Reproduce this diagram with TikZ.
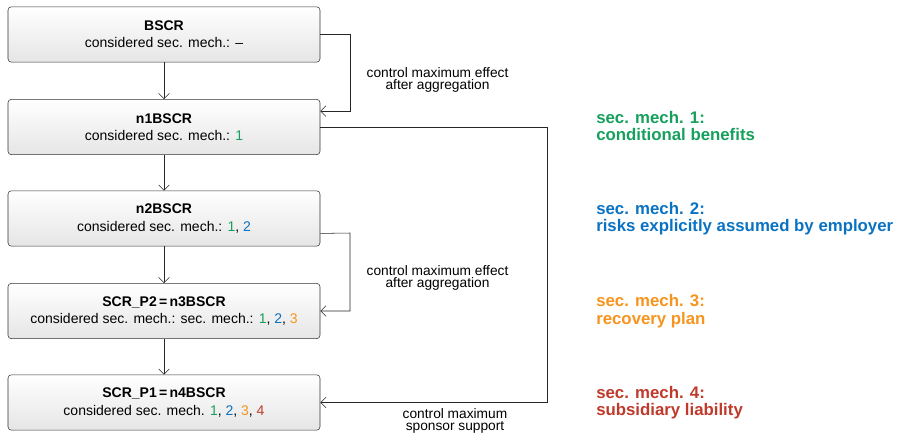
\documentclass[tikz,border=0pt]{standalone}
\usepackage{fontspec}
\setmainfont{Liberation Sans}
\usetikzlibrary{arrows.meta,calc}

\definecolor{mechone}{HTML}{17A05D}
\definecolor{mechtwo}{HTML}{0A72C2}
\definecolor{mechthree}{HTML}{F7941D}
\definecolor{mechfour}{HTML}{BF3A2B}

\begin{document}
\begin{tikzpicture}[x=0.75pt,y=-0.75pt,
  stage/.style={draw=black!80, rounded corners=2.5pt, top color=white,
    bottom color=black!10, minimum width=234pt, minimum height=41.5pt,
    inner sep=0pt, align=center, font=\fontsize{10.5}{13}\selectfont},
  flow/.style={draw=black!85, -{Straight Barb[length=4pt,width=8pt]}},
  note/.style={align=center, font=\fontsize{10.3}{9.2}\selectfont},
  legend/.style={anchor=base west, align=left, inner sep=0pt,
    font=\bfseries\fontsize{12.6}{13}\selectfont}]
  \useasboundingbox (0,0) rectangle (897,433);

  % stages
  \node[stage] (bscr) at (164,34.5)
    {\textbf{BSCR}\\considered sec. mech.: --};
  \node[stage] (nbscr1) at (164,127)
    {\textbf{n1BSCR}\\considered sec. mech.: \textcolor{mechone}{1}};
  \node[stage] (nbscr2) at (164,218.5)
    {\textbf{n2BSCR}\\considered sec. mech.: \textcolor{mechone}{1},
    \textcolor{mechtwo}{2}};
  \node[stage] (nbscr3) at (164,311)
    {\textbf{SCR\_P2\,=\,n3BSCR}\\considered sec. mech.: sec. mech.:
    \textcolor{mechone}{1}, \textcolor{mechtwo}{2}, \textcolor{mechthree}{3}};
  \node[stage] (nbscr4) at (164,402.5)
    {\textbf{SCR\_P1\,=\,n4BSCR}\\considered sec. mech. \textcolor{mechone}{1},
    \textcolor{mechtwo}{2}, \textcolor{mechthree}{3}, \textcolor{mechfour}{4}};

  \draw[flow] (bscr) -- (nbscr1);
  \draw[flow] (nbscr1) -- (nbscr2);
  \draw[flow] (nbscr2) -- (nbscr3);
  \draw[flow] (nbscr3) -- (nbscr4);

  % feedback loops
  \draw[flow] (bscr.east) -- (350,34.5) |- ($(nbscr1.north east)+(0,12)$);
  \draw[flow] ($(nbscr2.south east)+(0,-13)$) -- (350,233) |- (nbscr3.east);
  \draw[flow] (nbscr1.east) -- (547,127) |- (nbscr4.east);

  \node[note] (aggone) at (437.5,80) {control maximum effect\\after aggregation};
  \node[note] (aggtwo) at (437.5,278) {control maximum effect\\after aggregation};
  \node[note] (sponsor) at (455,421) {control maximum\\sponsor support};

  % legend
  \node[legend, text=mechone] (legone) at (596,140.6)
    {sec. mech. 1:\\conditional benefits};
  \node[legend, text=mechtwo] (legtwo) at (596,231.6)
    {sec. mech. 2:\\risks explicitly assumed by employer};
  \node[legend, text=mechthree] (legthree) at (596,324)
    {sec. mech. 3:\\recovery plan};
  \node[legend, text=mechfour] (legfour) at (596,415.6)
    {sec. mech. 4:\\subsidiary liability};
\end{tikzpicture}
\end{document}
